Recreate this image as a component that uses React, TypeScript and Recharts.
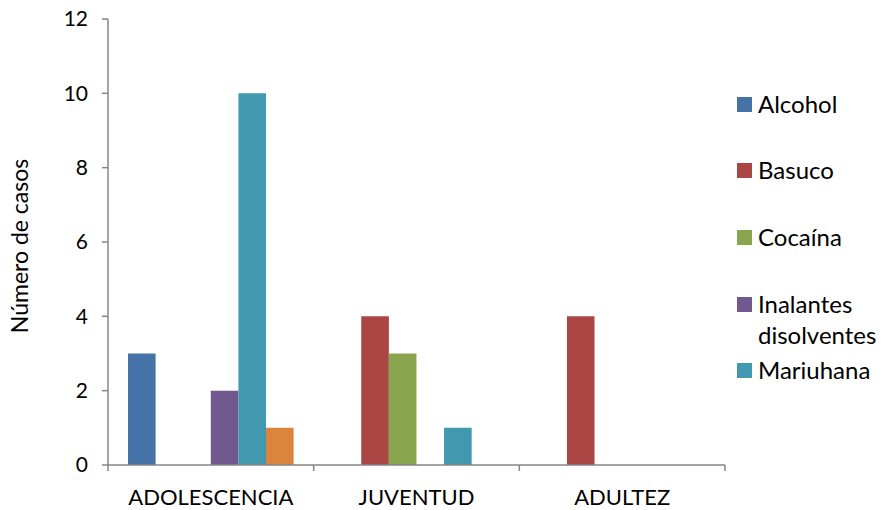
import React from "react";
import { BarChart, Bar, XAxis, YAxis, Legend } from "recharts";

const categories = ["ADOLESCENCIA", "JUVENTUD", "ADULTEZ"];
const seriesNames = ["Alcohol", "Basuco", "Cocaína", "Inalantes disolventes", "Mariuhana", "Otra"];
const alcohol = [3, 0, 0];
const basuco = [0, 4, 4];
const cocaina = [0, 3, 0];
const inalantes = [2, 0, 0];
const mariuhana = [10, 1, 0];
const otra = [1, 0, 0];
const yTicks = [0, 2, 4, 6, 8, 10, 12];

const colors = ["#4572A7", "#AA4643", "#89A54E", "#71588F", "#4198AF", "#DB843D"];
const keys = ["alcohol", "basuco", "cocaina", "inalantes", "mariuhana", "otra"];
const values = [alcohol, basuco, cocaina, inalantes, mariuhana, otra];

const data = categories.map((c, i) => {
  const row: any = { name: c };
  keys.forEach((k, j) => (row[k] = values[j][i]));
  return row;
});

const FONT = "Lato, 'Open Sans', sans-serif";
const AXIS = "#868686";

const XTick = (props: any) => {
  const { x, y, payload, index } = props;
  const half = payload && payload.offset ? payload.offset : 102.8;
  const axisY = y - 8;
  return (
    <g>
      <line x1={x - half} x2={x - half} y1={axisY} y2={axisY + 6} stroke={AXIS} strokeWidth={1.5} />
      {index === categories.length - 1 && (
        <line x1={x + half} x2={x + half} y1={axisY} y2={axisY + 6} stroke={AXIS} strokeWidth={1.5} />
      )}
      <text x={x} y={axisY + 40} textAnchor="middle" fontFamily={FONT} fontSize={22} fill="#000">
        {payload.value}
      </text>
    </g>
  );
};

const YLabel = () => (
  <text
    transform="translate(28,246) rotate(-90)"
    textAnchor="middle"
    fontFamily={FONT}
    fontSize={23}
    fill="#000"
  >
    Número de casos
  </text>
);

const legendTops = [104, 170, 237, 304, 370];

const CustomLegend = () => (
  <div style={{ position: "relative", width: 1, height: 1, overflow: "visible" }}>
    {seriesNames.slice(0, 5).map((n, i) => {
      const lines = n === "Inalantes disolventes" ? ["Inalantes", "disolventes"] : [n];
      return (
        <div key={n} style={{ position: "absolute", left: 0, top: legendTops[i] - 12 }}>
          <div
            style={{
              position: "absolute",
              left: 0,
              top: 5,
              width: 15,
              height: 15,
              background: colors[i],
            }}
          />
          <div
            style={{
              position: "absolute",
              left: 21,
              top: -4,
              fontFamily: FONT,
              fontSize: 24,
              lineHeight: "31px",
              whiteSpace: "nowrap",
              color: "#000",
            }}
          >
            {lines.map((l) => (
              <div key={l}>{l}</div>
            ))}
          </div>
        </div>
      );
    })}
  </div>
);

export default function App() {
  return (
    <div style={{ position: "absolute", left: 0, top: 0, width: 883, height: 510, background: "#fff" }}>
      <BarChart
        width={883}
        height={510}
        data={data}
        margin={{ top: 19, right: 157, bottom: 0, left: 0 }}
        barGap={0}
        barSize={27.6}
      >
        <XAxis
          dataKey="name"
          height={45}
          axisLine={{ stroke: AXIS, strokeWidth: 1.5 }}
          tickLine={false}
          tick={<XTick />}
          interval={0}
        />
        <YAxis
          width={108}
          domain={[0, 12]}
          ticks={yTicks}
          interval={0}
          axisLine={{ stroke: AXIS, strokeWidth: 1.5 }}
          tickLine={{ stroke: AXIS, strokeWidth: 1.5 }}
          tickSize={6}
          tickMargin={14}
          tick={{ fontFamily: FONT, fontSize: 21, fill: "#000" }}
          label={<YLabel />}
        />
        <Legend
          layout="vertical"
          align="right"
          verticalAlign="top"
          content={<CustomLegend />}
          wrapperStyle={{ position: "absolute", left: 737, top: 0, width: 1, height: 1, overflow: "visible" }}
        />
        {keys.map((k, i) => (
          <Bar key={k} dataKey={k} name={seriesNames[i]} fill={colors[i]} isAnimationActive={false} />
        ))}
      </BarChart>
    </div>
  );
}
